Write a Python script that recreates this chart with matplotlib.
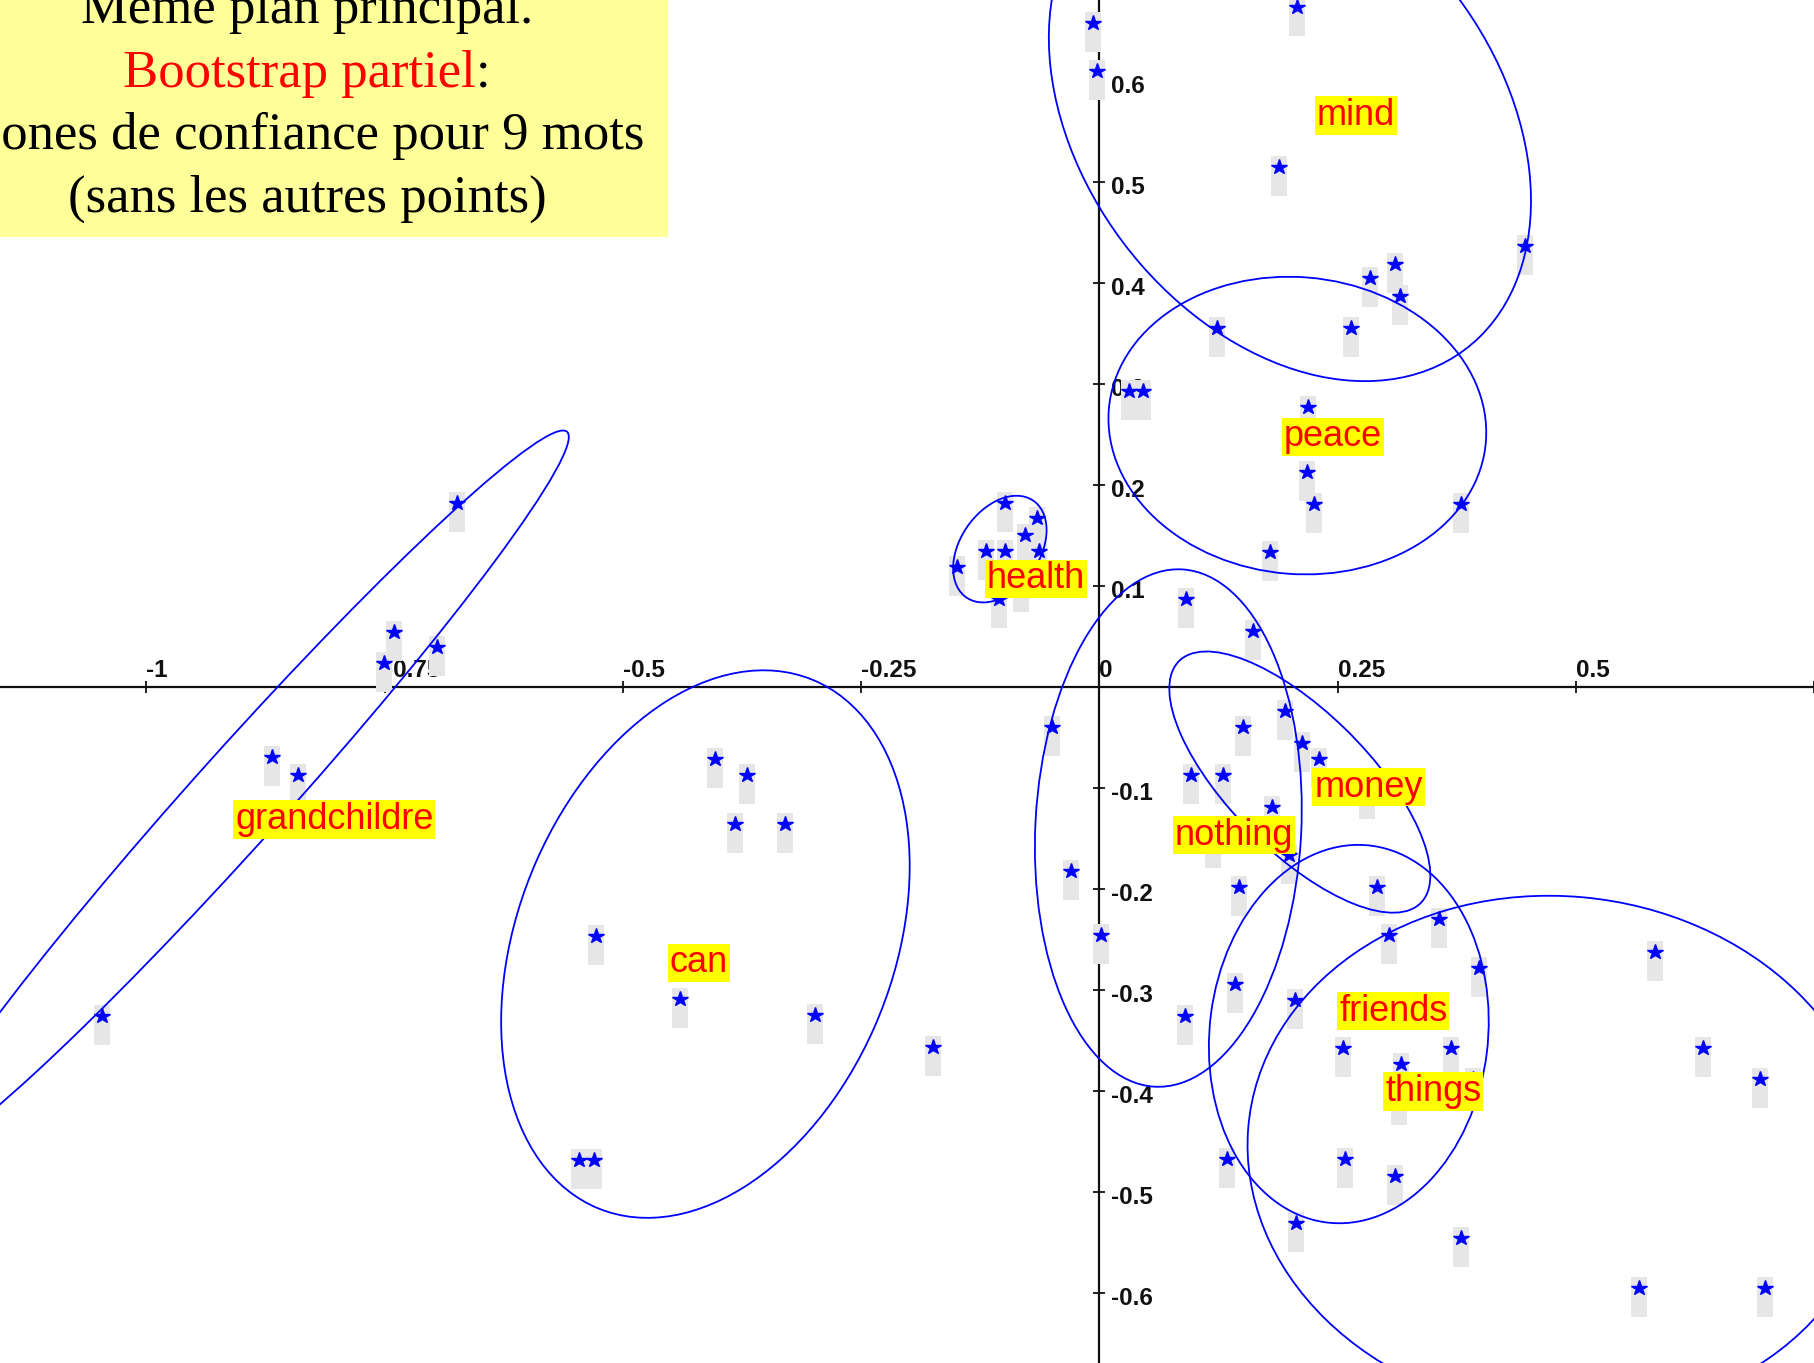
import numpy as np
import matplotlib
matplotlib.use("Agg")
import matplotlib.pyplot as plt
from matplotlib.patches import Ellipse, Rectangle
from matplotlib.path import Path
from matplotlib.markers import MarkerStyle

W, H, DPI = 1814, 1363, 100

# ---- words and their position in the principal plane ----
words = ["mind", "peace", "health", "nothing", "money",
         "friends", "things", "can", "grandchildre"]
label_x = [0.269, 0.2453, -0.0668, 0.1412, 0.2825, 0.3085, 0.3503, -0.4203, -0.8029]
label_y = [0.5657, 0.2473, 0.1068, -0.1469, -0.0993, -0.3212, -0.4006, -0.2734, -0.1313]

# ---- partial bootstrap replicates for each word ----
mind_x = [-0.0071, -0.0029, 0.2076, 0.1884, 0.1233, 0.2642, 0.2836, 0.3103, 0.3151, 0.4463]
mind_y = [0.6574, 0.6099, 0.6733, 0.5149, 0.3557, 0.3557, 0.4050, 0.4187, 0.3866, 0.4360]

peace_x = [0.0313, 0.0460, 0.2193, 0.2181, 0.2254, 0.1792, 0.3795]
peace_y = [0.2931, 0.2931, 0.2767, 0.2126, 0.1805, 0.1335, 0.1805]

health_x = [-0.0992, -0.0659, -0.0782, -0.1194, -0.0992, -0.0635, -0.1498, -0.1051, -0.0824]
health_y = [0.1816, 0.1667, 0.1502, 0.1347, 0.1347, 0.1347, 0.1182, 0.0865, 0.1030]

nothing_x = [0.0908, 0.1614, -0.0496, -0.0299, 0.0016, 0.0900, 0.1425, 0.1464, 0.1194, 0.0957, 0.1293]
nothing_y = [0.0865, 0.0551, -0.0400, -0.1826, -0.2462, -0.3257, -0.2940, -0.1985, -0.1503, -0.0878, -0.0878]

money_x = [0.1503, 0.1947, 0.2132, 0.2307, 0.1807, 0.1992, 0.2810, 0.2915]
money_y = [-0.0400, -0.0245, -0.0559, -0.0719, -0.1189, -0.1666, -0.1023, -0.1985]

friends_x = [0.3566, 0.3038, 0.3985, 0.2055, 0.2558, 0.3171, 0.3692, 0.3146, 0.1335, 0.2576, 0.3101, 0.2069]
friends_y = [-0.2296, -0.2462, -0.2780, -0.3098, -0.3576, -0.3735, -0.3576, -0.4054, -0.4680, -0.4680, -0.4842, -0.5309]

things_x = [0.3920, 0.5836, 0.6336, 0.6931, 0.3800, 0.5664, 0.6991]
things_y = [-0.3888, -0.2623, -0.3574, -0.3887, -0.5460, -0.5950, -0.5950]

can_x = [-0.4038, -0.3702, -0.3828, -0.3303, -0.5280, -0.4399, -0.2988, -0.5465, -0.5301, -0.1750]
can_y = [-0.0719, -0.0877, -0.1356, -0.1356, -0.2465, -0.3095, -0.3254, -0.4686, -0.4686, -0.3570]

grand_x = [-0.6742, -0.7398, -0.7505, -0.6948, -0.8686, -0.8405, -1.0469]
grand_y = [0.1816, 0.0545, 0.0232, 0.0396, -0.0693, -0.0874, -0.3258]

replicates_x = [mind_x, peace_x, health_x, nothing_x, money_x, friends_x, things_x, can_x, grand_x]
replicates_y = [mind_y, peace_y, health_y, nothing_y, money_y, friends_y, things_y, can_y, grand_y]

# ---- confidence ellipses: centre x, centre y, width, height, angle (deg) ----
ell_cx = [0.200, 0.2078, -0.1044, 0.0724, 0.2104, 0.2618, 0.4851, -0.4134, -0.8998]
ell_cy = [0.562, 0.2586, 0.1363, -0.1399, -0.0944, -0.3439, -0.4645, -0.2548, -0.1062]
ell_w = [0.587, 0.397, 0.119, 0.513, 0.349, 0.376, 0.660, 0.570, 0.990]
ell_h = [0.425, 0.294, 0.0813, 0.279, 0.142, 0.292, 0.514, 0.391, 0.094]
ell_angle = [-47.3, -4.4, 50.9, 86.7, -42.7, 82.3, -4.7, 64.9, 46.4]

# ---- axes ----
xticks = [-1, -0.75, -0.5, -0.25, 0, 0.25, 0.5, 0.75]
xtick_labels = ["-1", "-0.75", "-0.5", "-0.25", "0", "0.25", "0.5", ""]
yticks = [0.6, 0.5, 0.4, 0.3, 0.2, 0.1, -0.1, -0.2, -0.3, -0.4, -0.5, -0.6]
ytick_labels = ["0.6", "0.5", "0.4", "0.3", "0.2", "0.1",
                "-0.1", "-0.2", "-0.3", "-0.4", "-0.5", "-0.6"]

title_lines = ["Même plan principal.", "Bootstrap partiel", ":",
               "Zones de confiance pour 9 mots", "(sans les autres points)"]

BLUE = "#0000FF"
RED = "#FF0000"

fig = plt.figure(figsize=(W / DPI, H / DPI), dpi=DPI, facecolor="white")
ax = fig.add_axes([0, 0, 1, 1])
ax.set_xlim(-1.1537, 0.7497)
ax.set_ylim(-0.6696, 0.6800)
ax.set_facecolor("white")
ax.set_axisbelow(True)

for side in ("top", "right"):
    ax.spines[side].set_visible(False)
for side in ("left", "bottom"):
    ax.spines[side].set_position(("data", 0))
    ax.spines[side].set_linewidth(1.6)
    ax.spines[side].set_color("#111111")
    ax.spines[side].set_zorder(0.5)

ax.set_xticks(xticks)
ax.set_yticks(yticks)
ax.tick_params(direction="inout", length=8, width=1.3, color="#111111",
               labelbottom=False, labelleft=False)

tick_font = dict(family="Liberation Sans", weight="bold", fontsize=17.5, color="#111111")
for v, s in zip(xticks, xtick_labels):
    if s:
        ax.annotate(s, xy=(v, 0), xytext=(0, 10), textcoords="offset pixels",
                    ha="left", va="baseline", zorder=0.6, **tick_font)
for v, s in zip(yticks, ytick_labels):
    ax.annotate(s, xy=(0, v), xytext=(12, -12), textcoords="offset pixels",
                ha="left", va="baseline", zorder=0.6, **tick_font)

# grey tag under each replicate star (in pixels relative to the point)
tag = Path([(-8, -29), (8, -29), (8, 11), (-8, 11), (-8, -29)],
           [Path.MOVETO, Path.LINETO, Path.LINETO, Path.LINETO, Path.CLOSEPOLY])
tag_ms = 2 * 29 * 72 / DPI

for xs, ys in zip(replicates_x, replicates_y):
    ax.plot(xs, ys, linestyle="none", marker=MarkerStyle(tag), ms=tag_ms,
            mfc="#E6E6E6", mew=0, zorder=1)

for cx, cy, w, h, a in zip(ell_cx, ell_cy, ell_w, ell_h, ell_angle):
    ax.add_patch(Ellipse((cx, cy), w, h, angle=a, fill=False,
                         edgecolor=BLUE, linewidth=1.3, zorder=2))

for xs, ys in zip(replicates_x, replicates_y):
    ax.plot(xs, ys, linestyle="none", marker="*", ms=11.5, color=BLUE,
            mec=BLUE, mew=1.0, zorder=3)

for wd, lx, ly in zip(words, label_x, label_y):
    ax.text(lx, ly, wd, ha="center", va="center", fontsize=26, color=RED,
            family="Liberation Sans", zorder=5,
            bbox=dict(boxstyle="square,pad=0.05", fc="#FFFF00", ec="none"))

# ---- title panel ----
fig.patches.append(Rectangle((0, 1 - 237 / H), 668 / W, 237 / H,
                             transform=fig.transFigure, facecolor="#FFFF99",
                             edgecolor="none", zorder=1))
serif = dict(family="Liberation Serif", fontsize=38, zorder=3)
xc = 307 / W
baselines = [23, 87, 149.5, 212]

fig.text(xc, 1 - baselines[0] / H, title_lines[0], ha="center", va="baseline",
         color="black", **serif)

renderer = fig.canvas.get_renderer()
probe = fig.text(0, 0, title_lines[1] + title_lines[2], **serif)
full_w = probe.get_window_extent(renderer).width
probe.remove()
red_part = fig.text(xc - full_w / 2 / W, 1 - baselines[1] / H, title_lines[1],
                    ha="left", va="baseline", color=RED, **serif)
x_end = red_part.get_window_extent(renderer).x1
fig.text(x_end / W, 1 - baselines[1] / H, title_lines[2], ha="left",
         va="baseline", color="black", **serif)

fig.text(xc, 1 - baselines[2] / H, title_lines[3], ha="center", va="baseline",
         color="black", **serif)
fig.text(xc, 1 - baselines[3] / H, title_lines[4], ha="center", va="baseline",
         color="black", **serif)

fig.savefig("out.png", dpi=DPI, facecolor="white")
